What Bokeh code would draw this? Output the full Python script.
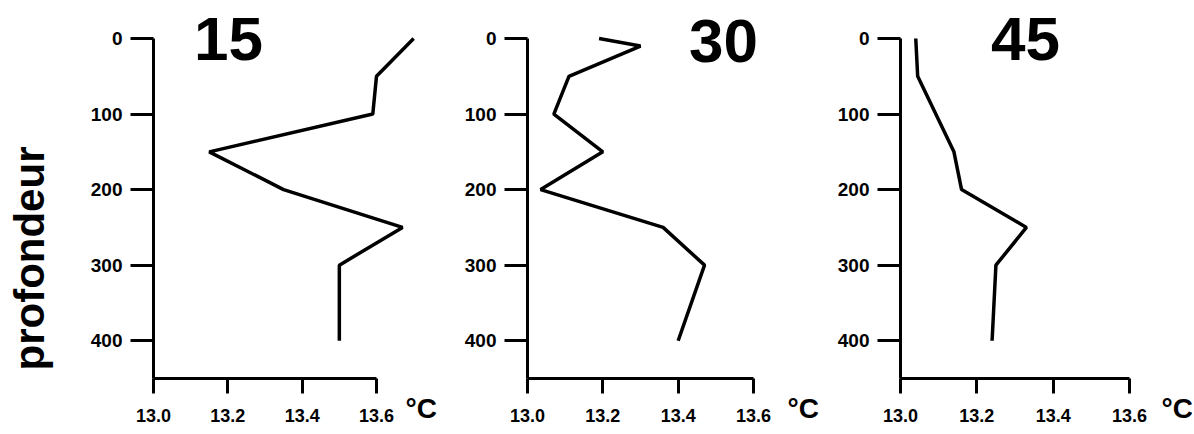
import math
from bokeh.plotting import figure
from bokeh.layouts import row
from bokeh.models import Range1d, FixedTicker, Label
from bokeh.embed import file_html
from bokeh.resources import INLINE

# ---------------- data ----------------
STATIONS = ["15", "30", "45"]

DEPTH_15 = [0, 50, 100, 150, 200, 250, 300, 400]
TEMP_15 = [13.70, 13.60, 13.59, 13.15, 13.35, 13.67, 13.50, 13.50]

DEPTH_30 = [0, 10, 50, 100, 150, 200, 250, 300, 400]
TEMP_30 = [13.19, 13.30, 13.11, 13.07, 13.20, 13.035, 13.36, 13.47, 13.40]

DEPTH_45 = [0, 50, 150, 200, 250, 300, 400]
TEMP_45 = [13.04, 13.045, 13.14, 13.16, 13.33, 13.25, 13.24]

X_TICKS = [13.0, 13.2, 13.4, 13.6]
X_TICK_LABELS = ["13.0", "13.2", "13.4", "13.6"]
Y_TICKS = [0, 100, 200, 300, 400]
Y_TICK_LABELS = ["0", "100", "200", "300", "400"]
UNIT = "°C"
Y_LABEL = "profondeur"

SERIES = [(TEMP_15, DEPTH_15), (TEMP_30, DEPTH_30), (TEMP_45, DEPTH_45)]

# ---------------- layout / style (pixels) ----------------
FONT = "Liberation Sans"
X_AXIS_BOUNDS = (13.0, 13.6)
Y_AXIS_BOUNDS = (0, 450)
FIG_H = 432
Y0_PX = 38      # pixel row of depth 0
Y450_PX = 378   # pixel row of depth 450
# per panel: figure left, figure width, pixel column of 13.0, pixel column of 13.6,
# title centre (px), unit label offset
PANELS = [
    dict(left=0, width=457, x0=153, x6=376, title_px=(228, 38), unit_dx=29),
    dict(left=457, width=363, x0=527, x6=753, title_px=(723, 40), unit_dx=34),
    dict(left=820, width=372, x0=900, x6=1129, title_px=(1025, 38), unit_dx=32),
]
YLABEL_PX = (29, 258)
UNIT_MID_PX = 408

ys = (Y450_PX - Y0_PX) / (Y_AXIS_BOUNDS[1] - Y_AXIS_BOUNDS[0])
y_top = -Y0_PX / ys
y_bot = (FIG_H - Y0_PX) / ys

figs = []
for i, (pan, (temps, depths), name) in enumerate(zip(PANELS, SERIES, STATIONS)):
    xs = (pan["x6"] - pan["x0"]) / (X_AXIS_BOUNDS[1] - X_AXIS_BOUNDS[0])
    x_start = X_AXIS_BOUNDS[0] - (pan["x0"] - pan["left"]) / xs
    x_end = x_start + pan["width"] / xs

    def px2x(px):
        return X_AXIS_BOUNDS[0] + (px - pan["x0"]) / xs

    def py2y(py):
        return (py - Y0_PX) / ys

    p = figure(
        x_range=Range1d(x_start, x_end),
        y_range=Range1d(y_bot, y_top),
        width=pan["width"], height=FIG_H,
        min_border=0,
        output_backend="svg", toolbar_location=None, tools="",
    )
    p.outline_line_color = None
    p.background_fill_color = "white"
    p.border_fill_color = "white"
    p.xgrid.visible = False
    p.ygrid.visible = False

    xa = p.xaxis[0]
    xa.fixed_location = Y_AXIS_BOUNDS[1]
    xa.bounds = X_AXIS_BOUNDS
    xa.ticker = FixedTicker(ticks=X_TICKS)
    xa.major_label_overrides = dict(zip(X_TICKS, X_TICK_LABELS))
    xa.major_tick_out = 15
    xa.major_tick_in = 0
    xa.minor_tick_line_color = None
    xa.axis_line_width = 3
    xa.major_tick_line_width = 3
    xa.major_label_standoff = 15
    xa.major_label_text_font = FONT
    xa.major_label_text_font_style = "bold"
    xa.major_label_text_font_size = "18px"
    xa.major_label_text_color = "black"

    ya = p.yaxis[0]
    ya.fixed_location = X_AXIS_BOUNDS[0]
    ya.bounds = Y_AXIS_BOUNDS
    ya.ticker = FixedTicker(ticks=Y_TICKS)
    ya.major_label_overrides = dict(zip(Y_TICKS, Y_TICK_LABELS))
    ya.major_tick_out = 23
    ya.major_tick_in = 0
    ya.minor_tick_line_color = None
    ya.axis_line_width = 3
    ya.major_tick_line_width = 3
    ya.major_label_standoff = 8
    ya.major_label_text_font = FONT
    ya.major_label_text_font_style = "bold"
    ya.major_label_text_font_size = "19px"
    ya.major_label_text_color = "black"

    p.line(temps, depths, line_width=3.5, line_color="black")

    tx, ty = pan["title_px"]
    p.add_layout(Label(
        x=px2x(tx), y=py2y(ty), text=name,
        text_font=FONT, text_font_style="bold", text_font_size="62px",
        text_align="center", text_baseline="middle", text_color="black",
    ))
    p.add_layout(Label(
        x=X_AXIS_BOUNDS[1], y=py2y(UNIT_MID_PX), x_offset=pan["unit_dx"], text=UNIT,
        text_font=FONT, text_font_style="bold", text_font_size="28px",
        text_align="left", text_baseline="middle", text_color="black",
    ))
    if i == 0:
        p.add_layout(Label(
            x=px2x(YLABEL_PX[0]), y=py2y(YLABEL_PX[1]), text=Y_LABEL, angle=math.pi / 2,
            text_font=FONT, text_font_style="bold", text_font_size="42px",
            text_align="center", text_baseline="middle", text_color="black",
        ))
    figs.append(p)

layout = row(*figs)
open("out.html", "w").write(file_html(layout, INLINE, "profondeur"))
